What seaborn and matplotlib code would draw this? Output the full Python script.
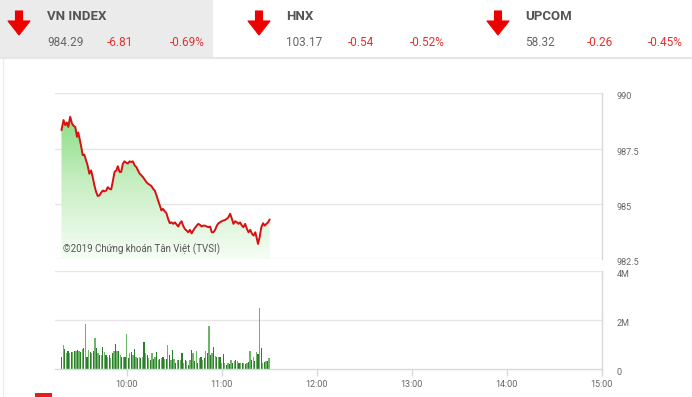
import numpy as np
import pandas as pd
import matplotlib
matplotlib.use("Agg")
import matplotlib.pyplot as plt
import matplotlib.transforms as mtransforms
import seaborn as sns
from matplotlib.patches import Rectangle, Polygon
from matplotlib.colors import LinearSegmentedColormap
from matplotlib.lines import Line2D

# ---------------- data ----------------
# intraday VN-Index, minutes after 09:00
price_minutes = [18.9, 20.2, 21.3, 22.3, 23.2, 24.4, 25.5, 26.5, 27.6, 28.7,
                 29.5, 30.3, 31.2, 32.3, 33.3, 34.4, 35.4, 36.5, 37.6, 38.6,
                 39.7, 40.8, 41.8, 42.9, 43.9, 45.0, 46.0, 47.1, 48.1, 49.2,
                 50.3, 51.3, 52.4, 53.5, 54.5, 55.6, 56.6, 57.7, 58.7, 59.8,
                 60.8, 61.9, 63.0, 64.0, 65.1, 66.2, 67.2, 68.3, 69.3, 70.3,
                 71.4, 72.5, 73.5, 74.6, 75.7, 76.7, 77.8, 78.9, 79.9, 81.0,
                 82.0, 83.0, 84.1, 85.2, 86.2, 87.3, 88.4, 89.4, 90.5, 91.6,
                 92.6, 93.7, 94.7, 95.7, 96.8, 97.9, 98.9, 100.0, 101.1, 102.1,
                 103.2, 104.3, 105.3, 106.3, 107.4, 108.4, 109.5, 110.6, 111.6, 112.7,
                 113.8, 114.8, 115.9, 117.0, 118.0, 119.0, 120.1, 121.1, 122.2, 123.3,
                 124.3, 125.4, 126.5, 127.5, 128.6, 129.7, 130.7, 131.7, 132.8, 133.8,
                 134.9, 136.0, 137.0, 138.1, 139.2, 140.2, 141.3, 142.3, 143.0, 144.0,
                 145.1, 146.2, 147.2, 148.3, 149.3, 150.4]
price_values = [988.33, 988.79, 988.56, 988.68, 988.48, 988.94, 988.64, 988.53, 988.48, 988.03,
                988.23, 987.95, 987.65, 987.20, 987.23, 986.97, 986.74, 986.36, 986.51, 986.21,
                985.83, 985.53, 985.35, 985.38, 985.50, 985.60, 985.56, 985.60, 985.75, 985.68,
                985.65, 986.01, 986.44, 986.51, 986.70, 986.44, 986.44, 986.82, 986.92, 986.86,
                986.82, 986.92, 986.89, 986.92, 986.74, 986.66, 986.51, 986.36, 986.29, 986.21,
                986.10, 985.98, 985.91, 985.86, 985.80, 985.68, 985.60, 985.38, 985.15, 984.92,
                984.70, 984.77, 984.66, 984.57, 984.32, 984.12, 984.16, 984.09, 984.16, 984.06,
                983.97, 984.12, 984.21, 984.01, 983.86, 983.79, 983.71, 983.82, 983.66, 983.79,
                983.91, 984.01, 984.09, 984.05, 983.97, 984.01, 984.01, 983.97, 983.94, 983.97,
                983.71, 983.71, 983.82, 984.01, 984.12, 984.16, 984.21, 984.24, 984.27, 984.32,
                984.39, 984.55, 984.32, 984.09, 984.21, 984.16, 984.09, 984.16, 984.01, 983.94,
                984.09, 983.86, 983.71, 983.82, 983.64, 983.56, 983.71, 983.41, 983.18, 983.48,
                983.94, 984.12, 984.01, 984.09, 984.16, 984.29]

# one volume bar per minute starting at 09:19 (values in millions of shares)
volume_start_minute = 19
volume_m = [0.47, 0.96, 0.82, 0.65, 0.75, 0.65, 0.68, 0.68, 0.72, 0.72,
            0.76, 0.75, 0.69, 0.82, 0.86, 1.83, 0.51, 0.76, 0.69, 0.65,
            0.72, 1.28, 0.86, 0.65, 0.58, 0.58, 0.90, 0.68, 0.58, 0.49,
            0.58, 0.44, 0.65, 0.72, 1.04, 0.72, 0.72, 0.58, 0.49, 0.51,
            0.49, 1.42, 0.44, 0.65, 0.69, 0.58, 0.82, 0.51, 0.44, 0.49,
            0.44, 0.49, 1.10, 0.65, 0.58, 0.44, 0.38, 0.65, 0.40, 0.49,
            0.68, 0.38, 0.40, 0.44, 0.49, 0.40, 0.40, 1.00, 0.58, 0.35,
            0.76, 0.40, 0.24, 0.35, 0.38, 0.35, 0.65, 0.24, 0.38, 0.31,
            0.17, 0.35, 0.76, 0.65,
            0.31, 0.72, 0.24, 0.44, 0.49, 0.38, 0.44, 0.72, 0.65, 1.76,
            0.58, 0.65, 0.90, 0.54, 0.49, 0.51, 0.49, 0.24, 0.63, 0.24,
            0.17, 0.26, 0.21, 0.38, 0.26, 0.33, 0.35, 0.33, 0.26, 0.24,
            0.24, 0.26, 0.19, 0.24, 0.29, 0.72, 0.38, 0.49, 0.31, 0.69,
            0.63, 2.50, 0.86, 0.26, 0.29, 0.31, 0.33, 0.44]

time_tick_labels = ["10:00", "11:00", "12:00", "13:00", "14:00", "15:00"]
price_ticks = [982.5, 985, 987.5, 990]
price_tick_labels = ["982.5", "985", "987.5", "990"]
volume_ticks = [0, 2, 4]
volume_tick_labels = ["0", "2M", "4M"]

index_names = ["VN INDEX", "HNX", "UPCOM"]
index_values = ["984.29", "103.17", "58.32"]
index_changes = ["-6.81", "-0.54", "-0.26"]
index_pcts = ["-0.69%", "-0.52%", "-0.45%"]
watermark = "©2019 Chứng khoán Tân Việt (TVSI)"

# ---------------- layout helpers ----------------
W, H = 692, 397
sns.set_theme(style="white")
plt.rcParams["font.family"] = ["Roboto", "DejaVu Sans"]

fig = plt.figure(figsize=(W / 100, H / 100), dpi=100)
fig.patch.set_facecolor("white")


def rect(l, t, r, b):
    return [l / W, 1 - b / H, (r - l) / W, (b - t) / H]


def fx(x):
    return x / W


def fy(y):
    return 1 - y / H


X0, X1 = 15, 360   # 09:15 .. 15:00
GRID = "#e6e6e6"
FRAME = "#d6d9de"
LABEL = "#666666"

ax_p = fig.add_axes(rect(55.3, 93.3, 601.7, 259))
ax_v = fig.add_axes(rect(55.3, 271, 601.7, 369))

# ---------------- price panel ----------------
price_df = pd.DataFrame({"minute": price_minutes, "price": price_values})
ymin, ymax = price_ticks[0], price_ticks[-1]

grad = np.linspace(0, 1, 256).reshape(-1, 1)
cmap = LinearSegmentedColormap.from_list("g", ["#f6fdf5", "#c9efc4", "#86dc7e"])
im = ax_p.imshow(grad, extent=[price_minutes[0], price_minutes[-1], ymin, 989.2],
                 origin="lower", aspect="auto", cmap=cmap, zorder=1)
verts = [(price_minutes[0], ymin)] + list(zip(price_minutes, price_values)) + [(price_minutes[-1], ymin)]
poly = Polygon(verts, closed=True, facecolor="none", edgecolor="none")
ax_p.add_patch(poly)
im.set_clip_path(poly)

sns.lineplot(data=price_df, x="minute", y="price", ax=ax_p, color="#d81010",
             linewidth=1.4, sort=False, estimator=None, zorder=3)

ax_p.set_xlim(X0, X1)
ax_p.set_ylim(ymin, ymax)
ax_p.set_yticks(price_ticks)
ax_p.set_yticklabels(price_tick_labels)
ax_p.yaxis.tick_right()
ax_p.tick_params(axis="y", length=0, pad=11, labelsize=6.5, labelcolor=LABEL)
ax_p.set_xticks([])
ax_p.set_xlabel("")
ax_p.set_ylabel("")
for yv in price_ticks:
    ax_p.axhline(yv, color=GRID, lw=1, zorder=0)
for s in ["top", "left", "bottom"]:
    ax_p.spines[s].set_visible(False)
ax_p.spines["right"].set_color(FRAME)
ax_p.spines["right"].set_linewidth(1)
ax_p.set_facecolor("none")
ax_p.text(price_minutes[0] + 0.8, 982.7, watermark, fontsize=7, color="#555555",
          ha="left", va="bottom", zorder=4)

# ---------------- volume panel ----------------
vol_minutes = [volume_start_minute + i for i in range(len(volume_m))]
shade = ["dark" if i % 2 == 0 else "light" for i in range(len(volume_m))]
vol_df = pd.DataFrame({"minute": vol_minutes, "vol": volume_m, "shade": shade})
sns.barplot(data=vol_df, x="minute", y="vol", hue="shade", ax=ax_v,
            palette={"dark": "#218a21", "light": "#62bf5c"}, native_scale=True,
            dodge=False, width=0.8, linewidth=0, legend=False, errorbar=None)

tick_minutes = [int(t[:2]) * 60 + int(t[3:]) - 9 * 60 for t in time_tick_labels]
ax_v.set_xlim(X0, X1)
ax_v.set_ylim(volume_ticks[0], volume_ticks[-1])
ax_v.set_xticks(tick_minutes)
ax_v.set_xticklabels(time_tick_labels)
ax_v.set_yticks(volume_ticks)
ax_v.set_yticklabels(volume_tick_labels)
ax_v.yaxis.tick_right()
ax_v.tick_params(axis="y", length=0, pad=11, labelsize=6.5, labelcolor=LABEL)
ax_v.tick_params(axis="x", length=5, width=1, color=FRAME, pad=3,
                 labelsize=6.5, labelcolor=LABEL, bottom=True)
ax_v.set_xlabel("")
ax_v.set_ylabel("")
for yv in volume_ticks[1:]:
    ax_v.axhline(yv, color=GRID, lw=1, zorder=0)
for s in ["top", "left"]:
    ax_v.spines[s].set_visible(False)
ax_v.spines["right"].set_color(FRAME)
ax_v.spines["bottom"].set_color(FRAME)
ax_v.spines["right"].set_linewidth(1)
ax_v.spines["bottom"].set_linewidth(1)
ax_v.set_facecolor("none")

# nudge right-hand labels slightly down, as in the reference
shift = mtransforms.ScaledTranslation(0, -2.5 / 100, fig.dpi_scale_trans)
for ax in (ax_p, ax_v):
    for lab in ax.get_yticklabels():
        lab.set_transform(lab.get_transform() + shift)

# ---------------- header ----------------
fig.add_artist(Rectangle((0, fy(57)), fx(213), 57 / H, transform=fig.transFigure,
                         facecolor="#ebebeb", edgecolor="none", zorder=0))
fig.add_artist(Line2D([0, 1], [fy(58), fy(58)], transform=fig.transFigure,
                      color="#e6e6e6", lw=1.5))
fig.add_artist(Line2D([fx(3), fx(3)], [fy(58), 0], transform=fig.transFigure,
                      color="#ececec", lw=1))
fig.add_artist(Rectangle((fx(35), 0), fx(17), 4 / H, transform=fig.transFigure,
                         facecolor="#e02020", edgecolor="none"))

arrow_x = [19, 259, 498]
name_x = [47, 286, 525]
val_x = [47, 286, 525]
chg_x = [107, 348, 587]
pct_x = [170, 410, 648]
for i in range(3):
    cx = arrow_x[i]
    pts = [(cx - 3.5, 11), (cx + 3.5, 11), (cx + 3.5, 21), (cx + 11, 21),
           (cx, 35), (cx - 11, 21), (cx - 3.5, 21)]
    fig.add_artist(Polygon([(fx(a), fy(b)) for a, b in pts], closed=True,
                           transform=fig.transFigure, facecolor="#ee0000",
                           edgecolor="#ee0000", lw=0.8, joinstyle="round"))
    fig.text(fx(name_x[i]), fy(16), index_names[i], fontsize=9.5, fontweight="bold",
             color="#555555", ha="left", va="center")
    fig.text(fx(val_x[i]), fy(42), index_values[i], fontsize=8.5, color="#666666",
             ha="left", va="center")
    fig.text(fx(chg_x[i]), fy(42), index_changes[i], fontsize=8.5, color="#e53030",
             ha="left", va="center")
    fig.text(fx(pct_x[i]), fy(42), index_pcts[i], fontsize=8.5, color="#e53030",
             ha="left", va="center")

fig.savefig("out.png", dpi=100, facecolor="white")
